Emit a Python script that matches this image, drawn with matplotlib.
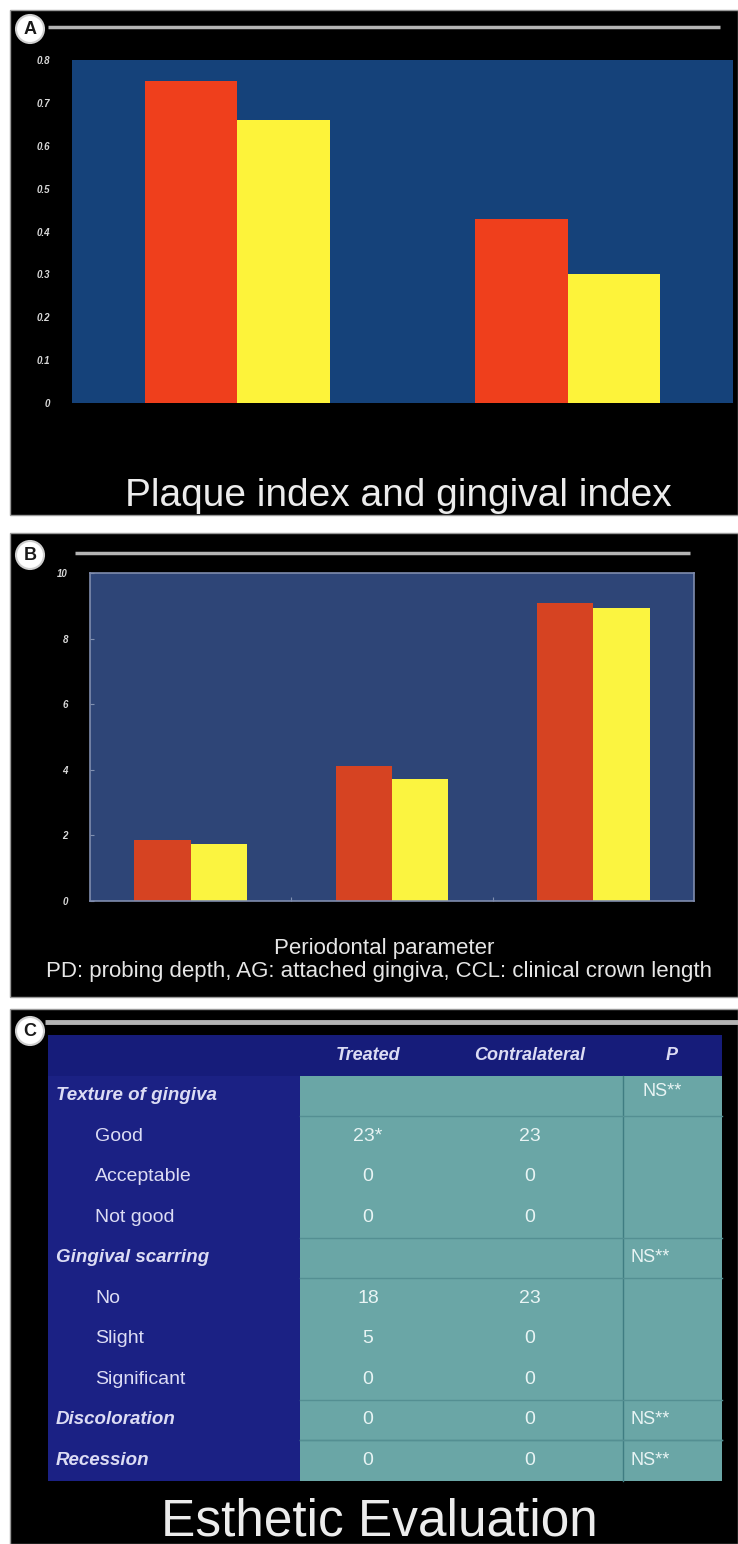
import numpy as np
import matplotlib
matplotlib.use("Agg")
import matplotlib.pyplot as plt
from matplotlib.patches import Rectangle, Circle

plt.rcParams['font.family'] = ['Liberation Sans', 'DejaVu Sans']

# ---------------- Data ----------------
# Panel A: plaque index / gingival index
a_groups = ["Plaque index", "Gingival index"]
a_treated = [0.75, 0.43]
a_contra = [0.66, 0.30]
a_ticks = [0, 0.1, 0.2, 0.3, 0.4, 0.5, 0.6, 0.7, 0.8]
a_ticklabels = ["0", "0.1", "0.2", "0.3", "0.4", "0.5", "0.6", "0.7", "0.8"]

# Panel B: periodontal parameters (PD, AG, CCL)
b_groups = ["PD", "AG", "CCL"]
b_treated = [1.86, 4.12, 9.09]
b_contra = [1.74, 3.71, 8.94]
b_ticks = [0, 2, 4, 6, 8, 10]

# Panel C: esthetic evaluation table
c_header = ["Treated", "Contralateral", "P"]
c_labels = ["Texture of gingiva", "Good", "Acceptable", "Not good",
            "Gingival scarring", "No", "Slight", "Significant",
            "Discoloration", "Recession"]
c_is_group = [True, False, False, False, True, False, False, False, True, True]
c_treated = ["", "23*", "0", "0", "", "18", "5", "0", "0", "0"]
c_contra = ["", "23", "0", "0", "", "23", "0", "0", "0", "0"]
c_p = ["NS**", "", "", "", "NS**", "", "", "", "NS**", "NS**"]

W, H = 738, 1544
fig = plt.figure(figsize=(W / 100, H / 100), dpi=100, facecolor="white")


def px_rect(x0, y0, x1, y1):
    return [x0 / W, 1 - y1 / H, (x1 - x0) / W, (y1 - y0) / H]


# background axes in pixel units
bg = fig.add_axes([0, 0, 1, 1])
bg.set_xlim(0, W)
bg.set_ylim(H, 0)
bg.axis("off")

# black panels
for y0, y1 in [(10, 515), (533, 997), (1009, 1544)]:
    bg.add_patch(Rectangle((10, y0), W - 10, y1 - y0, facecolor="black",
                           edgecolor="#9a9a9a", lw=1))

# gray rules and circled letters
for (x0, x1, y, lw) in [(48, 720, 27, 2.5), (75, 690, 553, 2.5), (45, 738, 1022, 3.5)]:
    bg.plot([x0, x1], [y, y], color="#b4b4b4", lw=lw, solid_capstyle="butt")
for letter, cy in [("A", 29), ("B", 555), ("C", 1031)]:
    bg.add_patch(Circle((30, cy), 14, facecolor="white", edgecolor="#cfcfcf", lw=1.5))
    bg.text(30, cy + 1, letter, ha="center", va="center", fontsize=13,
            fontweight="bold", color="#1a1a1a")

# ---------------- Panel A ----------------
ax_a = fig.add_axes(px_rect(72, 60, 733, 403))
ax_a.set_facecolor("#15427a")
xa = np.arange(len(a_groups))
w = 0.28
ax_a.bar(xa - w / 2, a_treated, width=w, color="#ef3f1c")
ax_a.bar(xa + w / 2, a_contra, width=w, color="#fdf33a")
ax_a.set_xlim(-0.5, 1.5)
ax_a.set_ylim(0, 0.8)
ax_a.set_yticks(a_ticks)
ax_a.set_yticklabels(a_ticklabels, fontsize=7, fontweight="bold",
                     fontstyle="italic", color="#d8d8d8")
ax_a.tick_params(axis="y", length=0, pad=16)
ax_a.set_xticks([])
for s in ax_a.spines.values():
    s.set_visible(False)

bg.text(398, 506, "Plaque index and gingival index", ha="center", va="baseline",
        fontsize=28, color="#ececec")

# ---------------- Panel B ----------------
ax_b = fig.add_axes(px_rect(90, 573, 694, 901))
ax_b.set_facecolor("#2e4577")
xb = np.arange(len(b_groups))
ax_b.bar(xb - w / 2, b_treated, width=w, color="#d64322")
ax_b.bar(xb + w / 2, b_contra, width=w, color="#fbf440")
ax_b.set_xlim(-0.5, 2.5)
ax_b.set_ylim(0, 10)
ax_b.set_yticks(b_ticks)
ax_b.set_yticklabels([str(t) for t in b_ticks], fontsize=7, fontweight="bold",
                     fontstyle="italic", color="#d8d8d8")
ax_b.tick_params(axis="y", length=3, direction="in", color="#8090b0", pad=16)
ax_b.set_xticks([0.5, 1.5])
ax_b.set_xticklabels([])
ax_b.tick_params(axis="x", length=3, direction="in", color="#8090b0")
for s in ax_b.spines.values():
    s.set_color("#7f8cae")
    s.set_linewidth(1.2)

bg.text(384, 954, "Periodontal parameter", ha="center", va="baseline",
        fontsize=16, color="#e6e6e6")
bg.text(379, 977, "PD: probing depth, AG: attached gingiva, CCL: clinical crown length",
        ha="center", va="baseline", fontsize=16, color="#e6e6e6")

# ---------------- Panel C (table) ----------------
tx0, tx1 = 48, 722
split_x = 300
p_x = 623
top = 1035
row_h = 40.5
n = len(c_labels)
tbl_bottom = top + row_h * (n + 1)

bg.add_patch(Rectangle((tx0, top), tx1 - tx0, tbl_bottom - top,
                       facecolor="#1b2184", edgecolor="none"))
bg.add_patch(Rectangle((tx0, top), tx1 - tx0, row_h, facecolor="#161c7a",
                       edgecolor="none"))
bg.add_patch(Rectangle((split_x, top + row_h), tx1 - split_x, row_h * n,
                       facecolor="#6aa6a6", edgecolor="none"))
bg.plot([p_x, p_x], [top + row_h, tbl_bottom], color="#3f7d82", lw=1)

col_x = [368, 530, 650]
txt_col = "#dcdcf4"
num_col = "#e8f4f4"
for hx, htxt in zip([368, 530, 672], c_header):
    bg.text(hx, top + row_h / 2, htxt, ha="center", va="center",
            fontsize=13, fontweight="bold", fontstyle="italic", color=txt_col)

for i in range(n):
    yc = top + row_h * (i + 1.5)
    if c_is_group[i]:
        bg.text(56, yc, c_labels[i], ha="left", va="center", fontsize=13.5,
                fontweight="bold", fontstyle="italic", color=txt_col)
        for yl in [top + row_h * (i + 1), top + row_h * (i + 2)]:
            if top + row_h < yl < tbl_bottom - 1:
                bg.plot([split_x, tx1], [yl, yl], color="#548f92", lw=1)
    else:
        bg.text(95, yc, c_labels[i], ha="left", va="center", fontsize=14,
                color=txt_col)
    bg.text(col_x[0], yc, c_treated[i], ha="center", va="center", fontsize=14,
            color=num_col)
    bg.text(col_x[1], yc, c_contra[i], ha="center", va="center", fontsize=14,
            color=num_col)
    bg.text(col_x[2] + (12 if i == 0 else 0), yc - (4 if i == 0 else 0), c_p[i],
            ha="center", va="center", fontsize=13, color=num_col)

bg.text(379, 1535, "Esthetic Evaluation", ha="center", va="baseline",
        fontsize=37, color="#ececec")

fig.savefig("out.png", dpi=100, facecolor="white")
